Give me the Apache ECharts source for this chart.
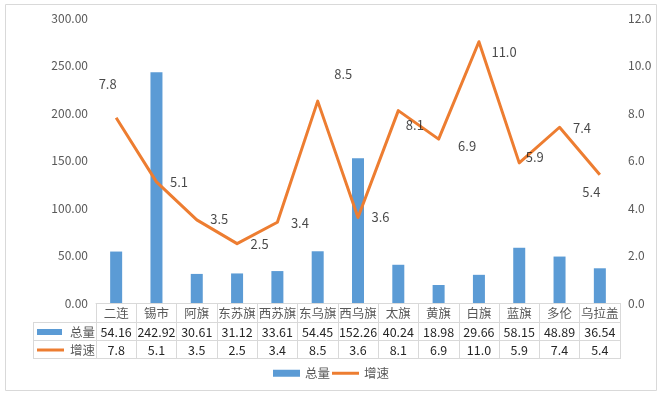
<!DOCTYPE html>
<html><head><meta charset="utf-8">
<script src="https://cdn.jsdelivr.net/npm/echarts@6/dist/echarts.min.js"></script>
<style>html,body{margin:0;padding:0;background:#fff}#c{width:662px;height:396px}</style>
</head><body><div id="c"></div>
<script>
const categories = ['二连','锡市','阿旗','东苏旗','西苏旗','东乌旗','西乌旗','太旗','黄旗','白旗','蓝旗','多伦','乌拉盖'];
const totals = [54.16,242.92,30.61,31.12,33.61,54.45,152.26,40.24,18.98,29.66,58.15,48.89,36.54];
const growth = [7.8,5.1,3.5,2.5,3.4,8.5,3.6,8.1,6.9,11.0,5.9,7.4,5.4];
const leftTicks = {min:0,max:300,interval:50};
const rightTicks = {min:0,max:12,interval:2};
// label nudges (style only)
const labelOffsets = [[-31,-34],[0,0],[0,-1],[0,0],[0,1],[3,-27],[0,0],[-6,14],[6,7],[-1,10],[-7,-6],[0,1],[-31,17]];

const FONT = '"Noto Sans CJK SC","Microsoft YaHei",sans-serif';
const GL = 96, GR = 620, GT = 18, GB = 303;
const chart = echarts.init(document.getElementById('c'));
const lineColor = '#D9D9D9';
const graphics = [
  {type:'rect', shape:{x:5.5,y:4.5,width:651,height:386}, style:{fill:'none',stroke:lineColor,lineWidth:1}, silent:true},
  {type:'line', shape:{x1:33,y1:322.5,x2:GR,y2:322.5}, style:{stroke:lineColor,lineWidth:1}},
  {type:'line', shape:{x1:33,y1:340.5,x2:GR,y2:340.5}, style:{stroke:lineColor,lineWidth:1}},
  {type:'line', shape:{x1:33,y1:358.5,x2:GR,y2:358.5}, style:{stroke:lineColor,lineWidth:1}},
  {type:'line', shape:{x1:33.5,y1:322.5,x2:33.5,y2:358.5}, style:{stroke:lineColor,lineWidth:1}},
  {type:'rect', shape:{x:37,y:329,width:25,height:6}, style:{fill:'#5B9BD5'}},
  {type:'text', x:70, y:332, style:{text:'总量',font:'12.5px '+FONT,fill:'#595959',textVerticalAlign:'middle'}},
  {type:'line', shape:{x1:37,y1:350,x2:64,y2:350}, style:{stroke:'#ED7D31',lineWidth:3}},
  {type:'text', x:70, y:350, style:{text:'增速',font:'12.5px '+FONT,fill:'#595959',textVerticalAlign:'middle'}}
];

chart.setOption({
  animation:false,
  textStyle:{fontFamily:FONT},
  grid:{left:GL,right:662-GR,top:GT,bottom:396-GB},
  legend:{top:362,left:'center',itemWidth:27,itemHeight:7,itemGap:2,symbolKeepAspect:true,
    textStyle:{color:'#595959',fontSize:12.5,fontFamily:FONT},
    data:[{name:'总量',icon:'rect'},{name:'增速',icon:'path://M0,0H27V3H0Z'}]},
  xAxis:[
    {type:'category',data:categories,position:'bottom',
     axisLine:{show:true,lineStyle:{color:lineColor}},
     axisTick:{show:true,length:56,interval:0,lineStyle:{color:lineColor}},
     axisLabel:{interval:0,margin:2,lineHeight:16,color:'#595959',fontSize:12.5,fontFamily:FONT}},
    {type:'category',data:totals.map(v=>v.toFixed(2)),position:'bottom',offset:19,
     axisLine:{show:false},axisTick:{show:false},
     axisLabel:{interval:0,margin:2,lineHeight:16,color:'#262626',fontSize:12.5,fontFamily:FONT}},
    {type:'category',data:growth.map(v=>v.toFixed(1)),position:'bottom',offset:37,
     axisLine:{show:false},axisTick:{show:false},
     axisLabel:{interval:0,margin:2,lineHeight:16,color:'#262626',fontSize:12.5,fontFamily:FONT}}
  ],
  yAxis:[
    {type:'value',min:leftTicks.min,max:leftTicks.max,interval:leftTicks.interval,
     axisLine:{show:false},axisTick:{show:false},splitLine:{show:false},
     axisLabel:{margin:8,color:'#595959',fontSize:12,fontFamily:FONT,formatter:v=>v.toFixed(2)}},
    {type:'value',min:rightTicks.min,max:rightTicks.max,interval:rightTicks.interval,position:'right',
     axisLine:{show:false},axisTick:{show:false},splitLine:{show:false},
     axisLabel:{margin:8,color:'#595959',fontSize:12,fontFamily:FONT,formatter:v=>v.toFixed(1)}}
  ],
  series:[
    {name:'总量',type:'bar',xAxisIndex:0,yAxisIndex:0,data:totals,barWidth:12,
     itemStyle:{color:'#5B9BD5'}},
    {name:'增速',type:'line',xAxisIndex:0,yAxisIndex:1,symbol:'none',
     lineStyle:{color:'#ED7D31',width:3,join:'round'},itemStyle:{color:'#ED7D31'},
     data:growth},
    {name:'增速标签',type:'scatter',xAxisIndex:0,yAxisIndex:1,symbolSize:1,
     itemStyle:{color:'rgba(0,0,0,0)'},silent:true,z:5,
     data:growth.map((v,i)=>({value:v,label:{offset:labelOffsets[i]}})),
     label:{show:true,position:'right',distance:13,color:'#1a1a1a',fontSize:13,fontFamily:FONT,
       formatter:p=>Number(p.value).toFixed(1)}}
  ],
  graphic:graphics
});
</script></body></html>
